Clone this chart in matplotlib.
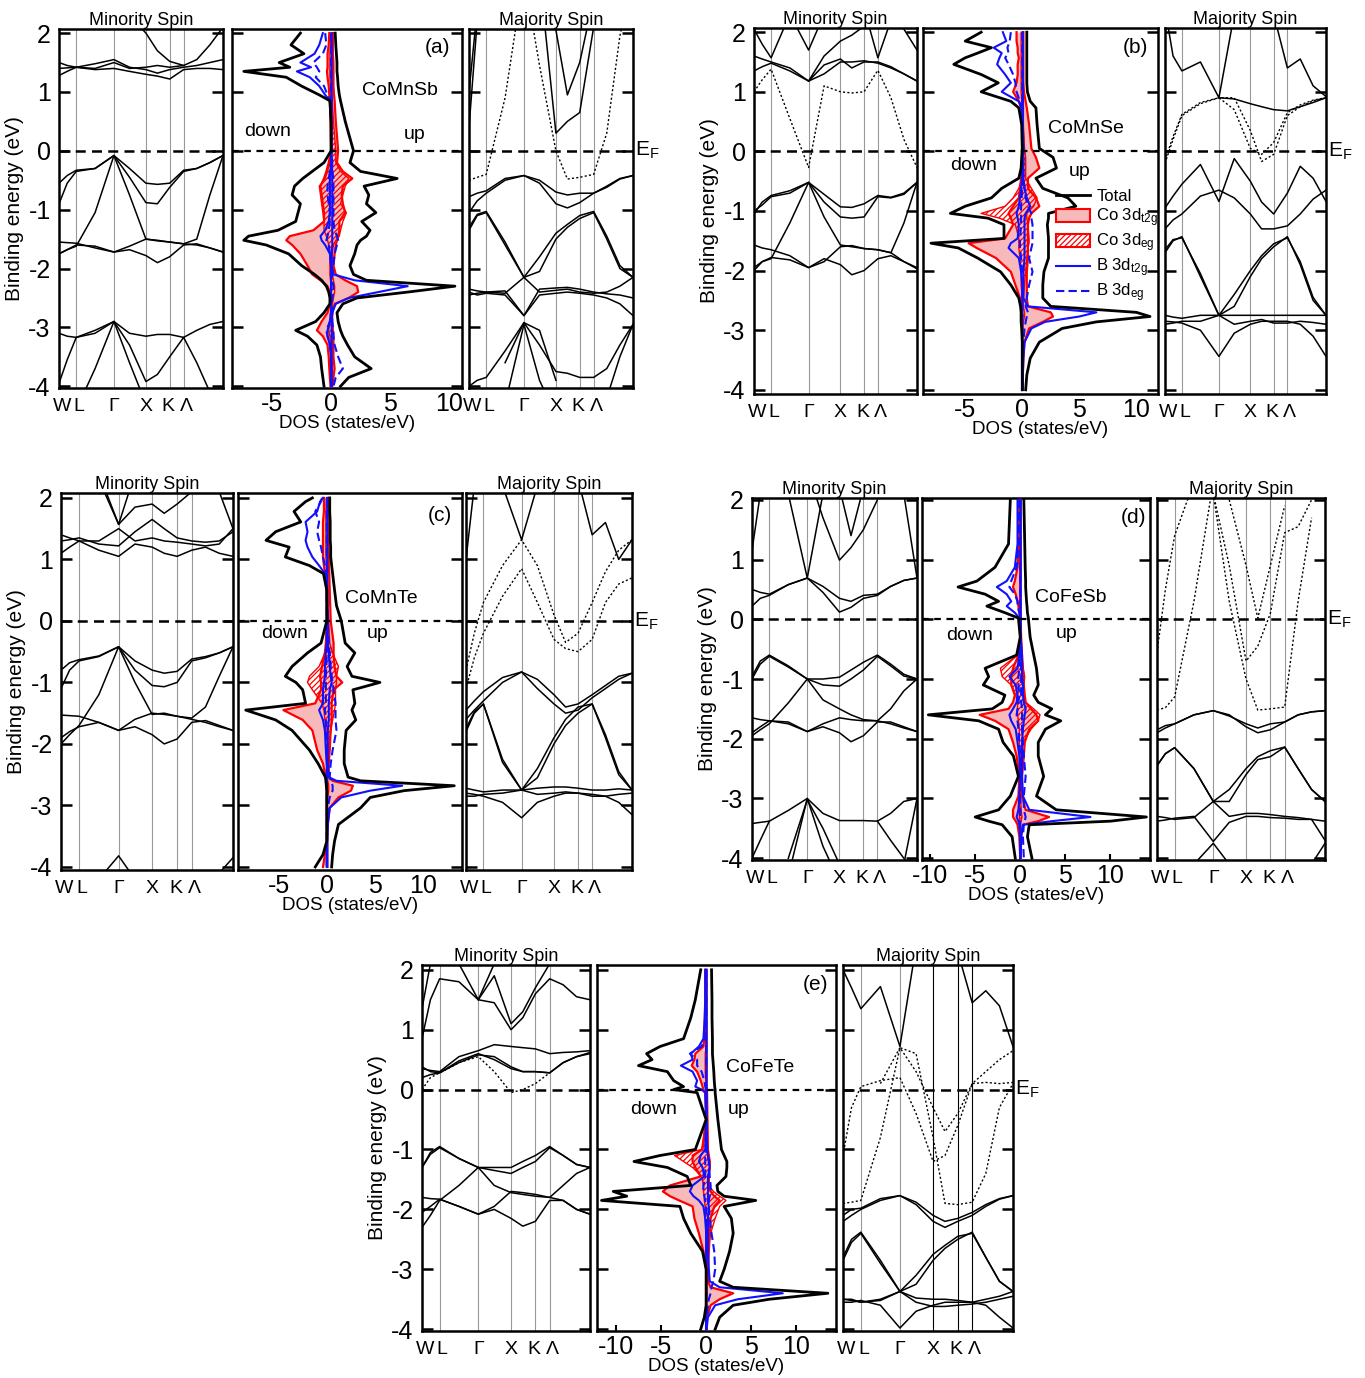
import numpy as np
import matplotlib
matplotlib.use('Agg')
import matplotlib.pyplot as plt
from matplotlib.lines import Line2D
from matplotlib.patches import Patch

plt.rcParams['font.family'] = ['Liberation Sans', 'DejaVu Sans']
plt.rcParams['mathtext.default'] = 'regular'
plt.rcParams['hatch.linewidth'] = 0.9

nan = np.nan

# ---------------------------------------------------------------
# k-path (fraction of the path length) and high-symmetry points
# ---------------------------------------------------------------
K_PATH = [0.0, 0.05, 0.105, 0.22, 0.335, 0.43, 0.53, 0.6, 0.675, 0.76, 0.84, 0.92, 1.0]
HS_POS = [0.105, 0.335, 0.53, 0.675, 0.76]
K_TICKS = [0.018, 0.12, 0.335, 0.53, 0.666, 0.774]
K_LABELS = ['W', 'L', 'Γ', 'X', 'K', 'Λ']
E_TICKS = [-4, -3, -2, -1, 0, 1, 2]

# ---------------------------------------------------------------
# (a) CoMnSb
# ---------------------------------------------------------------
A_MIN_SOLID = [
    [-0.55, -0.42, -0.33, -0.3, -0.08, -0.3, -0.55, -0.57, -0.55, -0.33, -0.3, -0.2, -0.08],
    [-0.9, -0.55, -0.35, -0.3, -0.08, -0.45, -0.88, -0.9, -0.62, -0.35, -0.3, -0.2, -0.08],
    [-1.75, -1.68, -1.62, -1.05, -0.08, -0.75, -1.5, -1.52, -1.55, -1.58, -1.5, -0.75, -0.08],
    [-1.55, -1.56, -1.57, -1.65, -1.72, -1.62, -1.5, -1.53, -1.55, -1.58, -1.6, -1.65, -1.72],
    [-1.75, -1.68, -1.6, -1.62, -1.72, -1.68, -1.78, -1.9, -1.8, -1.6, -1.58, -1.65, -1.72],
    [-3.1, -3.15, -3.17, -3.05, -2.9, -3.1, -3.15, -3.12, -3.12, -3.17, -3.05, -2.95, -2.9],
    [-3.95, -3.55, -3.17, -3.1, -2.9, -3.3, -3.92, -3.8, -3.5, -3.17, -3.6, -4.1, nan],
    [nan, nan, -4.4, -3.7, -2.9, -3.6, -4.3, nan, nan, nan, nan, nan, nan],
    [1.5, 1.45, 1.42, 1.48, 1.55, 1.42, 1.38, 1.32, 1.38, 1.42, 1.45, 1.5, 1.55],
    [1.28, 1.35, 1.42, 1.38, 1.4, 1.35, 1.3, 1.27, 1.22, 1.38, 1.4, 1.4, 1.38],
    [1.4, 1.41, 1.42, 1.4, 1.5, 1.4, 1.42, 1.45, 1.42, 1.45, 1.55, 1.8, 2.1],
    [nan, nan, nan, nan, nan, 2.3, 2.0, 1.7, 1.52, 1.45, nan, nan, nan],
]
A_MIN_DOT = []
A_MAJ_SOLID = [
    [0.4, 2.2, nan, nan, nan, nan, nan, nan, nan, nan, nan, nan, nan],
    [1.0, 2.4, nan, nan, nan, nan, nan, nan, nan, nan, nan, nan, nan],
    [nan, nan, nan, nan, nan, 3.0, 0.3, 0.5, 0.65, 2.1, nan, nan, nan],
    [nan, nan, nan, nan, nan, nan, 2.05, 0.95, 1.5, 2.6, nan, nan, nan],
    [-0.78, -0.72, -0.68, -0.47, -0.42, -0.5, -0.7, -0.75, -0.72, -0.72, -0.6, -0.47, -0.42],
    [-1.05, -0.85, -0.72, -0.5, -0.42, -0.55, -0.9, -0.97, -0.88, -0.72, -0.62, -0.48, -0.42],
    [-1.35, -1.1, -1.05, -1.6, -2.15, -2.05, -1.5, -1.3, -1.15, -1.05, -1.5, -2.0, -2.15],
    [-1.3, -1.08, -1.03, -1.55, -2.15, -1.8, -1.4, -1.25, -1.1, -1.03, -1.45, -1.95, -2.15],
    [-2.35, -2.38, -2.4, -2.42, -2.15, -2.4, -2.37, -2.35, -2.4, -2.42, -2.4, -2.3, -2.15],
    [-2.4, -2.45, -2.42, -2.45, -2.8, -2.45, -2.42, -2.4, -2.42, -2.45, -2.5, -2.6, -2.8],
    [-2.45, -2.42, -2.4, -2.38, -2.8, -2.35, -2.33, -2.32, -2.35, -2.4, -2.43, -2.45, -2.5],
    [-4.0, -3.9, -3.85, -3.4, -2.92, -3.3, -3.75, -3.78, -3.85, -3.85, -3.7, -3.3, -2.95],
    [nan, nan, nan, -4.3, -2.95, -3.9, -4.5, nan, nan, nan, nan, nan, nan],
    [nan, nan, nan, -3.6, -2.92, -3.05, -3.9, nan, nan, nan, nan, nan, nan],
    [nan, nan, nan, nan, nan, nan, nan, nan, nan, nan, -4.2, -3.5, -2.95],
]
A_MAJ_DOT = [
    [-0.5, -0.45, -0.4, 0.9, 3.0, 1.45, 0.0, -0.48, -0.45, -0.4, 0.3, 1.95, 3.0],
]

A_E = [2.0, 1.8, 1.65, 1.5, 1.42, 1.35, 1.25, 1.1, 0.95, 0.85,
       0.5, 0.0, -0.2, -0.35, -0.47, -0.6, -0.75, -0.9, -1.05, -1.2,
       -1.35, -1.45, -1.52, -1.6, -1.75, -1.95, -2.1, -2.2, -2.3, -2.4,
       -2.5, -2.6, -2.75, -2.9, -3.05, -3.15, -3.3, -3.5, -3.7, -3.85,
       -4.0]
A_TOT_DN = [-2.6, -3.4, -2.3, -4.4, -3.5, -7.4, -3.8, -2.5, -1.0, -0.1,
            0.0, 0.0, -0.6, -1.6, -2.4, -3.1, -3.3, -2.6, -2.8, -3.0,
            -4.5, -7.0, -7.4, -5.5, -3.6, -2.5, -1.4, -0.8, -0.4, -0.2,
            -0.1, -0.1, -0.6, -1.3, -3.0, -2.0, -1.2, -0.9, -0.8, -0.7,
            -0.6]
A_TOT_UP = [0.35, 0.4, 0.45, 0.5, 0.5, 0.5, 0.55, 0.6, 0.7, 0.8,
            1.2, 1.9, 1.6, 2.5, 5.6, 2.8, 3.2, 3.0, 3.8, 2.6,
            3.3, 3.0, 2.5, 2.2, 2.0, 1.6, 1.9, 3.0, 10.5, 6.5,
            2.2, 1.0, 0.5, 0.6, 0.8, 1.0, 1.4, 2.0, 3.4, 1.5,
            0.8]
A_CO_T2G_DN = [-0.15, -0.2, -0.3, -0.3, -0.3, -0.35, -0.3, -0.2, -0.15, -0.1,
               -0.05, 0.0, -0.2, -0.4, -0.6, -0.9, -0.8, -0.7, -0.6, -0.6,
               -1.5, -3.5, -3.8, -3.3, -2.6, -2.0, -1.6, -0.9, -0.3, -0.1,
               0.0, -0.1, -0.3, -0.8, -1.2, -0.7, -0.3, -0.2, -0.15, -0.1,
               -0.05]
A_CO_T2G_UP = [0.15, 0.15, 0.15, 0.2, 0.2, 0.2, 0.2, 0.2, 0.25, 0.3,
               0.4, 0.6, 0.5, 1.0, 1.8, 1.0, 0.9, 1.0, 1.2, 0.7,
               0.7, 0.6, 0.5, 0.4, 0.3, 0.2, 0.4, 1.2, 2.2, 2.3,
               1.5, 0.3, 0.1, 0.1, 0.15, 0.2, 0.2, 0.2, 0.3, 0.2,
               0.1]
A_CO_EG_DN = [-0.05, -0.05, -0.1, -0.1, -0.1, -0.1, -0.1, -0.05, -0.05, 0.0,
              0.0, 0.0, -0.1, -0.3, -0.5, -1.0, -0.9, -0.8, -0.7, -0.6,
              -0.6, -0.4, -0.3, -0.2, -0.1, -0.1, -0.1, -0.05, 0.0, 0.0,
              0.0, 0.0, -0.05, -0.1, -0.2, -0.1, -0.05, 0.0, 0.0, 0.0,
              0.0]
A_CO_EG_UP = [0.05, 0.05, 0.05, 0.05, 0.05, 0.05, 0.05, 0.05, 0.05, 0.1,
              0.2, 0.4, 0.4, 0.8, 1.5, 1.2, 1.0, 0.8, 1.3, 1.0,
              0.8, 0.7, 0.4, 0.2, 0.1, 0.1, 0.1, 0.2, 0.3, 0.3,
              0.2, 0.1, 0.05, 0.05, 0.05, 0.05, 0.05, 0.05, 0.1, 0.05,
              0.0]
A_B_T2G_DN = [-0.7, -1.0, -1.4, -2.6, -1.7, -2.9, -1.8, -1.0, -0.5, -0.1,
              0.0, 0.0, 0.0, -0.05, -0.1, -0.1, -0.1, -0.1, -0.1, -0.2,
              -0.5, -0.9, -0.8, -0.5, -0.1, 0.0, 0.0, 0.0, 0.0, 0.0,
              0.0, 0.0, 0.0, -0.1, -0.3, -0.3, -0.1, 0.0, 0.0, 0.0,
              0.0]
A_B_T2G_UP = [0.05, 0.05, 0.05, 0.05, 0.05, 0.05, 0.05, 0.05, 0.05, 0.05,
              0.05, 0.05, 0.05, 0.1, 0.1, 0.1, 0.1, 0.1, 0.1, 0.1,
              0.1, 0.1, 0.1, 0.1, 0.05, 0.05, 0.2, 2.0, 6.5, 4.0,
              1.5, 0.4, 0.1, 0.05, 0.05, 0.05, 0.05, 0.05, 0.05, 0.05,
              0.05]
A_B_EG_DN = [-0.5, -0.4, -0.7, -1.5, -1.2, -1.0, -1.3, -0.6, -0.3, -0.1,
             0.0, 0.0, 0.0, -0.1, -0.2, -0.3, -0.3, -0.2, -0.1, -0.1,
             -0.2, -0.3, -0.4, -0.2, -0.1, 0.0, 0.0, 0.0, 0.0, 0.0,
             0.0, 0.0, 0.0, -0.1, -0.4, -0.3, -0.1, 0.0, 0.0, 0.0,
             0.0]
A_B_EG_UP = [0.0, 0.0, 0.0, 0.0, 0.0, 0.0, 0.0, 0.0, 0.0, 0.0,
             0.0, 0.05, 0.1, 0.1, 0.2, 0.2, 0.2, 0.2, 0.2, 0.2,
             0.3, 0.5, 0.6, 0.5, 0.3, 0.2, 0.1, 0.1, 0.2, 0.2,
             0.1, 0.1, 0.1, 0.1, 0.2, 0.2, 0.3, 0.6, 1.0, 0.4,
             0.2]

# ---------------------------------------------------------------
# (b) CoMnSe
# ---------------------------------------------------------------
B_MIN_SOLID = [
    [-1.05, -0.85, -0.74, -0.66, -0.52, -0.72, -0.93, -0.94, -0.88, -0.74, -0.77, -0.7, -0.52],
    [-1.0, -0.9, -0.76, -0.7, -0.52, -0.85, -1.1, -1.12, -1.1, -0.76, -0.78, -0.72, -0.52],
    [-2.0, -1.85, -1.8, -1.2, -0.52, -1.1, -1.57, -1.6, -1.63, -1.65, -1.7, -1.2, -0.52],
    [-1.57, -1.62, -1.65, -1.75, -1.95, -1.85, -1.6, -1.58, -1.63, -1.65, -1.7, -1.85, -1.95],
    [-1.95, -1.85, -1.78, -1.82, -1.95, -1.8, -1.9, -2.07, -2.0, -1.8, -1.75, -1.85, -1.97],
    [1.35, 1.42, 1.48, 1.35, 1.18, 1.3, 1.5, 1.5, 1.52, 1.48, 1.4, 1.3, 1.18],
    [1.6, 1.55, 1.5, 1.4, 1.18, 1.45, 1.55, 1.4, 1.5, 1.5, 1.42, 1.3, 1.18],
    [2.05, 1.8, 1.57, 2.3, nan, nan, nan, nan, 2.4, 1.57, 2.2, nan, nan],
    [nan, nan, nan, 2.3, 1.7, 2.3, nan, nan, nan, nan, nan, nan, nan],
    [nan, nan, nan, nan, 1.18, 1.6, 1.85, 1.95, 2.1, nan, nan, nan, nan],
    [nan, nan, nan, nan, nan, nan, nan, nan, nan, nan, nan, 2.05, 1.7],
]
B_MIN_DOT = [
    [1.0, 1.2, 1.38, 0.55, -0.27, 1.1, 1.0, 0.98, 1.0, 1.36, 0.9, 0.2, -0.27],
]
B_MAJ_SOLID = [
    [2.4, 1.6, 1.35, 1.5, 0.9, 2.3, nan, nan, 2.3, 1.4, 1.55, 1.1, 0.92],
    [nan, nan, nan, nan, 0.9, 0.88, 0.8, 0.75, 0.7, 0.68, 0.75, 0.82, 0.9],
    [-0.95, -0.75, -0.55, -0.22, -0.84, -0.12, -0.5, -0.85, -1.05, -0.7, -0.25, -0.45, -0.84],
    [-1.3, -1.15, -1.05, -0.75, -0.65, -0.78, -1.05, -1.3, -1.3, -1.25, -1.05, -0.8, -0.65],
    [-1.7, -1.5, -1.43, -2.1, -2.75, -2.6, -2.1, -1.8, -1.6, -1.43, -1.9, -2.5, -2.75],
    [-1.65, -1.48, -1.45, -2.05, -2.75, -2.4, -2.0, -1.75, -1.55, -1.45, -1.85, -2.45, -2.75],
    [-2.75, -2.78, -2.8, -2.75, -2.75, -2.75, -2.75, -2.75, -2.75, -2.75, -2.75, -2.75, -2.75],
    [-2.9, -2.88, -2.85, -2.85, -2.75, -2.9, -2.85, -2.82, -2.88, -2.88, -2.85, -2.87, -2.9],
    [-2.85, -2.86, -2.88, -3.0, -3.44, -3.05, -2.9, -2.85, -2.85, -2.85, -2.9, -3.1, -3.44],
]
B_MAJ_DOT = [
    [-0.2, 0.2, 0.6, 0.8, 0.9, 0.9, 0.35, -0.17, -0.05, 0.6, 0.75, 0.85, 0.9],
    [-0.15, 0.25, 0.62, 0.82, 0.9, 0.7, 0.05, -0.05, 0.15, 0.65, 0.78, 0.86, 0.9],
]

B_E = [2.0, 1.85, 1.74, 1.65, 1.57, 1.46, 1.29, 1.15, 1.0, 0.84,
       0.73, 0.45, 0.05, -0.1, -0.28, -0.45, -0.62, -0.78, -0.92, -1.04,
       -1.12, -1.23, -1.46, -1.54, -1.62, -1.79, -2.02, -2.24, -2.46, -2.6,
       -2.7, -2.77, -2.86, -2.97, -3.2, -3.47, -3.75, -4.0]
B_TOT_DN = [-3.6, -5.0, -2.7, -3.9, -5.0, -6.0, -3.6, -2.1, -3.6, -1.0,
            -0.3, -0.05, 0.0, -0.05, -0.1, -0.3, -1.8, -2.7, -5.0, -6.3,
            -3.0, -1.6, -1.6, -8.0, -5.6, -3.9, -1.9, -1.0, -0.3, -0.15,
            -0.1, -0.1, -0.1, -0.05, 0.0, 0.0, 0.0, 0.0]
B_TOT_UP = [0.4, 0.4, 0.4, 0.4, 0.4, 0.4, 0.4, 0.4, 0.45, 0.7,
            1.2, 1.3, 1.5, 2.7, 3.0, 1.2, 1.8, 4.0, 4.7, 2.3,
            2.3, 2.2, 2.3, 2.3, 2.3, 2.3, 1.9, 1.8, 1.8, 2.5,
            10.0, 11.2, 6.5, 3.5, 1.5, 0.7, 0.4, 0.3]
B_CO_T2G_DN = [-0.5, -0.5, -0.4, -0.4, -0.3, -0.4, -0.4, -0.5, -0.8, -0.3,
               -0.1, 0.0, 0.0, 0.0, 0.0, -0.1, -0.2, -0.3, -0.8, -1.2,
               -1.0, -0.8, -1.5, -4.7, -4.0, -2.3, -1.0, -0.6, -0.2, -0.1,
               0.0, 0.0, 0.0, 0.0, 0.0, 0.0, 0.0, 0.0]
B_CO_T2G_UP = [0.1, 0.1, 0.1, 0.1, 0.1, 0.1, 0.1, 0.1, 0.15, 0.3,
               0.4, 0.6, 0.8, 1.2, 1.5, 0.5, 0.5, 1.2, 1.5, 0.8,
               0.6, 0.5, 0.5, 0.5, 0.5, 0.5, 0.4, 0.4, 0.4, 0.5,
               2.5, 2.7, 1.8, 0.6, 0.2, 0.1, 0.05, 0.05]
B_CO_EG_DN = [-0.1, -0.1, -0.1, -0.1, -0.1, -0.1, -0.1, -0.1, -0.1, -0.05,
              0.0, 0.0, 0.0, 0.0, 0.0, 0.0, -0.3, -0.8, -1.5, -3.6,
              -2.0, -0.6, -0.3, -0.3, -0.3, -0.2, -0.1, -0.1, 0.0, 0.0,
              0.0, 0.0, 0.0, 0.0, 0.0, 0.0, 0.0, 0.0]
B_CO_EG_UP = [0.05, 0.05, 0.05, 0.05, 0.05, 0.05, 0.05, 0.05, 0.05, 0.1,
              0.1, 0.1, 0.2, 0.3, 0.3, 0.3, 0.8, 1.3, 1.0, 0.4,
              0.4, 0.5, 0.6, 0.6, 0.5, 0.4, 0.3, 0.2, 0.1, 0.1,
              0.2, 0.2, 0.1, 0.05, 0.0, 0.0, 0.0, 0.0]
B_B_T2G_DN = [-1.7, -1.4, -2.5, -1.8, -2.0, -2.2, -1.5, -1.0, -1.8, -0.3,
              -0.05, 0.0, 0.0, 0.0, 0.0, 0.0, -0.1, -0.2, -0.3, -0.5,
              -0.4, -0.3, -0.4, -1.0, -1.2, -0.3, -0.1, 0.0, 0.0, 0.0,
              0.0, 0.0, 0.0, 0.0, 0.0, 0.0, 0.0, 0.0]
B_B_T2G_UP = [0.05, 0.05, 0.05, 0.05, 0.05, 0.05, 0.05, 0.05, 0.05, 0.05,
              0.05, 0.05, 0.1, 0.1, 0.1, 0.1, 0.2, 0.4, 0.7, 0.3,
              0.2, 0.2, 0.2, 0.2, 0.2, 0.2, 0.1, 0.1, 0.1, 0.5,
              6.5, 5.0, 2.0, 0.8, 0.2, 0.1, 0.05, 0.05]
B_B_EG_DN = [-1.0, -1.1, -1.3, -1.2, -1.5, -1.2, -0.8, -0.6, -0.5, -0.2,
             0.0, 0.0, 0.0, 0.0, 0.0, 0.0, 0.0, -0.05, -0.1, -0.1,
             -0.1, -0.1, -0.2, -0.2, -0.2, -0.1, 0.0, 0.0, 0.0, 0.0,
             0.0, 0.0, 0.0, 0.0, 0.0, 0.0, 0.0, 0.0]
B_B_EG_UP = [0.0, 0.0, 0.0, 0.0, 0.0, 0.0, 0.0, 0.0, 0.0, 0.0,
             0.0, 0.05, 0.1, 0.1, 0.1, 0.1, 0.2, 0.3, 0.5, 0.8,
             0.8, 0.9, 0.9, 0.9, 0.8, 0.6, 0.9, 0.6, 0.4, 0.3,
             0.5, 0.4, 0.3, 0.2, 0.1, 0.0, 0.0, 0.0]

# ---------------------------------------------------------------
# (c) CoMnTe
# ---------------------------------------------------------------
C_MIN_SOLID = [
    [-0.8, -0.68, -0.63, -0.57, -0.42, -0.65, -0.8, -0.85, -0.82, -0.62, -0.58, -0.52, -0.42],
    [-1.1, -0.8, -0.65, -0.58, -0.42, -0.8, -1.05, -1.07, -1.0, -0.65, -0.6, -0.52, -0.42],
    [-2.0, -1.85, -1.7, -1.2, -0.42, -1.0, -1.52, -1.5, -1.55, -1.58, -1.4, -0.9, -0.42],
    [-1.53, -1.54, -1.55, -1.65, -1.78, -1.6, -1.5, -1.52, -1.55, -1.6, -1.65, -1.72, -1.78],
    [-1.9, -1.8, -1.72, -1.65, -1.78, -1.72, -1.85, -2.0, -1.92, -1.65, -1.62, -1.7, -1.78],
    [nan, nan, nan, -4.2, -3.82, -4.2, nan, nan, nan, nan, nan, nan, nan],
    [nan, nan, nan, nan, nan, nan, nan, nan, nan, nan, nan, -4.1, -3.85],
    [1.1, 1.2, 1.3, 1.15, 1.05, 1.25, 1.2, 1.1, 1.05, 1.15, 1.2, 1.1, 1.05],
    [1.4, 1.35, 1.3, 1.3, 1.5, 1.3, 1.35, 1.3, 1.28, 1.25, 1.22, 1.25, 1.5],
    [1.3, 1.32, 1.35, 1.25, 1.22, 1.45, 1.65, 1.5, 1.35, 1.3, 1.28, 1.3, 1.45],
    [nan, nan, nan, 2.3, 1.57, 1.85, 1.9, 1.75, 1.9, 2.1, nan, nan, nan],
    [nan, nan, nan, 2.4, 1.57, 2.4, nan, nan, nan, nan, nan, nan, nan],
    [nan, nan, nan, nan, nan, nan, nan, nan, nan, nan, nan, 2.1, 1.5],
]
C_MIN_DOT = []
C_MAJ_SOLID = [
    [nan, nan, nan, 2.2, 1.32, 2.2, nan, nan, nan, nan, nan, nan, nan],
    [nan, nan, nan, nan, nan, nan, nan, nan, 2.3, 1.4, 1.6, 1.0, 1.32],
    [1.0, 2.2, nan, nan, nan, nan, nan, nan, nan, nan, nan, nan, nan],
    [-1.45, -1.3, -1.15, -0.92, -0.83, -0.95, -1.2, -1.4, -1.35, -1.2, -1.05, -0.9, -0.85],
    [-1.6, -1.45, -1.3, -1.0, -0.83, -1.1, -1.35, -1.5, -1.45, -1.25, -1.1, -0.95, -0.85],
    [-1.8, -1.5, -1.35, -2.3, -2.75, -2.55, -2.0, -1.7, -1.5, -1.35, -1.9, -2.5, -2.75],
    [-1.75, -1.48, -1.35, -2.25, -2.75, -2.4, -1.9, -1.6, -1.4, -1.35, -1.85, -2.45, -2.75],
    [-2.72, -2.75, -2.78, -2.75, -2.75, -2.72, -2.7, -2.7, -2.72, -2.75, -2.75, -2.73, -2.75],
    [-2.85, -2.85, -2.82, -2.8, -2.75, -2.82, -2.8, -2.78, -2.8, -2.85, -2.85, -2.82, -2.8],
    [-2.8, -2.82, -2.85, -2.95, -3.2, -2.95, -2.85, -2.8, -2.8, -2.82, -2.85, -2.95, -3.15],
]
C_MAJ_DOT = [
    [-0.8, -0.2, 0.3, 0.9, 1.32, 0.9, 0.1, -0.35, -0.2, 0.3, 0.8, 1.15, 1.32],
    [-1.1, -0.6, -0.2, 0.4, 0.85, 0.3, -0.3, -0.45, -0.5, -0.3, 0.3, 0.6, 0.7],
]

C_E = [2.0, 1.94, 1.78, 1.61, 1.45, 1.31, 1.2, 1.04, 0.9, 0.77,
       0.5, 0.25, 0.0, -0.36, -0.52, -0.74, -0.9, -1.0, -1.12, -1.34,
       -1.45, -1.61, -1.78, -2.1, -2.32, -2.54, -2.6, -2.68, -2.76, -2.87,
       -3.04, -3.31, -3.58, -3.8, -4.0]
C_TOT_DN = [-1.5, -2.2, -3.4, -2.7, -5.3, -6.3, -3.9, -4.3, -1.8, -0.35,
            0.0, 0.0, 0.0, -0.6, -2.0, -3.6, -4.3, -3.2, -2.5, -2.2,
            -8.4, -5.3, -3.6, -1.8, -0.9, -0.15, -0.1, -0.05, 0.0, 0.0,
            0.0, 0.0, 0.0, -0.4, -1.2]
C_TOT_UP = [0.3, 0.3, 0.3, 0.35, 0.35, 0.35, 0.4, 0.4, 0.5, 0.6,
            0.8, 1.0, 1.5, 1.9, 2.9, 2.1, 2.6, 5.5, 2.7, 2.9,
            2.6, 3.0, 2.0, 1.8, 1.8, 2.2, 3.5, 13.2, 8.0, 4.5,
            3.5, 1.2, 0.8, 0.6, 0.5]
C_CO_T2G_DN = [-0.3, -0.3, -0.3, -0.4, -0.4, -0.4, -0.4, -0.4, -0.3, -0.2,
               -0.05, 0.0, 0.0, -0.1, -0.2, -0.5, -0.7, -0.6, -0.6, -1.2,
               -4.5, -2.5, -1.5, -1.0, -0.4, -0.1, 0.0, 0.0, 0.0, 0.0,
               0.0, 0.0, 0.0, -0.2, -0.4]
C_CO_T2G_UP = [0.1, 0.1, 0.1, 0.1, 0.15, 0.15, 0.15, 0.2, 0.2, 0.25,
               0.3, 0.35, 0.4, 0.7, 0.7, 0.8, 1.0, 1.6, 0.7, 0.5,
               0.5, 0.5, 0.4, 0.3, 0.2, 0.2, 0.6, 2.7, 2.5, 1.2,
               0.3, 0.1, 0.05, 0.05, 0.05]
C_CO_EG_DN = [-0.05, -0.05, -0.1, -0.1, -0.1, -0.1, -0.1, -0.1, -0.05, 0.0,
              0.0, 0.0, 0.0, 0.0, -0.2, -0.8, -1.8, -2.0, -1.5, -0.5,
              -0.3, -0.2, -0.1, -0.1, 0.0, 0.0, 0.0, 0.0, 0.0, 0.0,
              0.0, 0.0, 0.0, 0.0, 0.0]
C_CO_EG_UP = [0.05, 0.05, 0.05, 0.05, 0.05, 0.05, 0.05, 0.05, 0.05, 0.05,
              0.1, 0.1, 0.2, 0.3, 0.6, 1.2, 1.0, 1.0, 0.9, 0.9,
              0.8, 0.6, 0.4, 0.2, 0.1, 0.1, 0.1, 0.2, 0.2, 0.1,
              0.0, 0.0, 0.0, 0.0, 0.0]
C_B_T2G_DN = [-0.4, -0.7, -1.0, -2.2, -2.0, -2.2, -2.0, -1.5, -0.8, -0.2,
              0.0, 0.0, 0.0, 0.0, -0.1, -0.2, -0.2, -0.3, -0.4, -0.4,
              -0.8, -0.4, -0.2, -0.1, 0.0, 0.0, 0.0, 0.0, 0.0, 0.0,
              0.0, 0.0, 0.0, 0.0, 0.0]
C_B_T2G_UP = [0.05, 0.05, 0.05, 0.05, 0.05, 0.05, 0.05, 0.05, 0.05, 0.05,
              0.05, 0.05, 0.1, 0.1, 0.2, 0.3, 0.4, 0.5, 0.3, 0.2,
              0.2, 0.2, 0.1, 0.1, 0.1, 0.2, 1.0, 7.8, 4.5, 1.5,
              0.3, 0.1, 0.05, 0.05, 0.05]
C_B_EG_DN = [-0.5, -0.6, -1.2, -0.8, -1.0, -0.8, -0.6, -0.4, -0.2, -0.05,
             0.0, 0.0, 0.0, 0.0, 0.0, -0.05, -0.1, -0.1, -0.1, -0.1,
             -0.2, -0.1, -0.05, 0.0, 0.0, 0.0, 0.0, 0.0, 0.0, 0.0,
             0.0, 0.0, 0.0, 0.0, 0.0]
C_B_EG_UP = [0.0, 0.0, 0.0, 0.0, 0.0, 0.0, 0.0, 0.0, 0.0, 0.0,
             0.0, 0.05, 0.1, 0.2, 0.3, 0.4, 0.5, 0.6, 0.7, 0.9,
             0.9, 0.9, 1.0, 0.6, 0.4, 0.3, 0.4, 0.6, 0.6, 0.3,
             0.1, 0.05, 0.0, 0.0, 0.0]

# ---------------------------------------------------------------
# (d) CoFeSb
# ---------------------------------------------------------------
D_MIN_SOLID = [
    [-0.96, -0.7, -0.6, -0.78, -1.0, -1.0, -0.97, -0.85, -0.72, -0.6, -0.75, -0.92, -1.0],
    [-1.0, -0.75, -0.62, -0.8, -1.0, -1.1, -1.12, -1.0, -0.85, -0.62, -0.78, -0.95, -1.0],
    [-1.95, -1.85, -1.75, -1.4, -1.0, -1.35, -1.5, -1.6, -1.68, -1.7, -1.5, -1.2, -1.0],
    [-1.65, -1.68, -1.7, -1.75, -1.88, -1.75, -1.65, -1.68, -1.7, -1.7, -1.75, -1.82, -1.88],
    [-1.9, -1.8, -1.7, -1.72, -1.88, -1.8, -1.9, -2.05, -1.95, -1.72, -1.72, -1.8, -1.88],
    [-3.42, -3.4, -3.38, -3.2, -3.0, -3.25, -3.37, -3.37, -3.37, -3.38, -3.25, -3.05, -3.0],
    [-4.0, -3.7, -3.38, nan, nan, nan, nan, nan, nan, -3.38, -3.7, -4.0, nan],
    [nan, nan, nan, -4.0, -3.02, -3.5, -4.1, nan, nan, nan, nan, nan, nan],
    [nan, nan, nan, -4.3, -3.0, -3.8, -4.4, nan, nan, nan, nan, nan, nan],
    [nan, nan, nan, nan, nan, nan, nan, nan, nan, nan, nan, -4.1, -3.0],
    [0.22, 0.35, 0.4, 0.58, 0.69, 0.55, 0.35, 0.3, 0.4, 0.42, 0.55, 0.65, 0.69],
    [0.5, 0.45, 0.42, 0.58, 0.69, 0.45, 0.12, 0.2, 0.35, 0.4, 0.55, 0.65, 0.69],
    [nan, nan, nan, nan, 2.5, 1.7, 0.99, 1.2, 1.5, 2.0, nan, nan, nan],
    [nan, nan, nan, nan, nan, nan, 2.2, 1.4, 2.2, nan, nan, nan, nan],
    [1.15, 2.1, nan, nan, nan, nan, nan, nan, nan, nan, nan, nan, nan],
    [nan, nan, nan, nan, nan, nan, nan, nan, nan, nan, nan, 2.1, 0.69],
    [nan, nan, nan, 2.1, 0.69, 2.1, nan, nan, nan, nan, nan, nan, nan],
]
D_MIN_DOT = []
D_MAJ_SOLID = [
    [-1.85, -1.78, -1.75, -1.6, -1.53, -1.6, -1.8, -1.9, -1.85, -1.72, -1.6, -1.55, -1.53],
    [-1.9, -1.82, -1.75, -1.6, -1.53, -1.62, -1.75, -1.82, -1.75, -1.72, -1.6, -1.55, -1.53],
    [-2.45, -2.25, -2.15, -2.5, -3.05, -3.05, -2.6, -2.35, -2.3, -2.14, -2.5, -2.85, -3.05],
    [-2.45, -2.25, -2.15, -2.5, -3.05, -2.85, -2.5, -2.3, -2.2, -2.14, -2.5, -2.85, -3.05],
    [-3.3, -3.32, -3.35, -3.32, -3.05, -3.3, -3.25, -3.25, -3.27, -3.3, -3.32, -3.35, -3.38],
    [-3.38, -3.36, -3.33, -3.3, -3.72, -3.4, -3.3, -3.3, -3.32, -3.33, -3.35, -3.35, -3.7],
    [nan, nan, nan, -4.1, -3.75, -4.1, nan, nan, nan, nan, nan, nan, nan],
    [nan, nan, nan, nan, nan, nan, nan, nan, nan, nan, nan, -4.1, -3.75],
]
D_MAJ_DOT = [
    [-0.55, 0.5, 1.4, 2.3, nan, nan, nan, nan, nan, nan, nan, nan, nan],
    [-1.52, -1.48, -1.3, 0.3, 2.3, nan, nan, nan, nan, nan, nan, nan, nan],
    [nan, nan, nan, nan, 2.1, 0.9, -0.7, -0.45, 0.1, 1.45, 1.55, 2.0, nan],
    [nan, nan, nan, nan, 2.1, 0.3, -1.0, -1.52, -1.5, -1.47, 0.3, 1.7, nan],
    [nan, nan, nan, nan, nan, 2.0, 0.9, 0.02, 0.9, 1.9, nan, nan, nan],
]

D_E = [2.0, 1.26, 0.87, 0.64, 0.54, 0.42, 0.3, 0.22, 0.11, 0.02,
       -0.3, -0.6, -0.82, -0.96, -1.1, -1.27, -1.39, -1.5, -1.6, -1.7,
       -1.84, -2.06, -2.29, -2.63, -2.96, -3.19, -3.31, -3.38, -3.44, -3.64,
       -4.0]
D_TOT_DN = [-1.1, -1.3, -2.8, -4.8, -6.9, -3.9, -2.4, -3.7, -1.7, -0.2,
            0.0, -0.4, -3.9, -3.5, -4.1, -1.7, -2.0, -3.1, -10.2, -4.6,
            -2.4, -1.9, -0.75, -0.2, -1.1, -2.4, -5.0, -3.5, -2.0, -0.9,
            -0.55]
D_TOT_UP = [0.4, 0.5, 0.55, 0.6, 0.6, 0.65, 0.7, 0.75, 0.8, 0.9,
            1.1, 1.5, 1.8, 1.9, 2.0, 1.5, 2.0, 3.5, 2.8, 4.5,
            2.8, 2.0, 2.0, 2.6, 1.8, 4.0, 14.0, 10.0, 1.0, 0.8,
            1.3]
D_CO_T2G_DN = [-0.1, -0.1, -0.3, -0.6, -0.8, -0.5, -0.3, -0.2, -0.1, 0.0,
               0.0, -0.2, -0.8, -1.0, -1.0, -0.6, -0.8, -1.3, -4.5, -2.8,
               -1.3, -0.8, -0.4, -0.1, -0.2, -0.8, -0.8, -0.5, -0.3, -0.1,
               0.0]
D_CO_T2G_UP = [0.05, 0.05, 0.05, 0.05, 0.05, 0.05, 0.05, 0.05, 0.05, 0.05,
               0.1, 0.2, 0.3, 0.4, 0.4, 0.5, 0.6, 1.2, 1.8, 2.0,
               1.0, 0.5, 0.4, 0.2, 0.2, 0.6, 3.2, 2.0, 0.3, 0.1,
               0.05]
D_CO_EG_DN = [0.0, 0.0, 0.0, -0.05, -0.05, -0.05, 0.0, 0.0, 0.0, 0.0,
              0.0, -0.3, -2.2, -2.0, -1.0, -0.5, -0.3, -0.3, -0.3, -0.2,
              -0.1, -0.1, 0.0, 0.0, 0.0, -0.1, -0.1, -0.05, 0.0, 0.0,
              0.0]
D_CO_EG_UP = [0.0, 0.0, 0.0, 0.0, 0.0, 0.0, 0.0, 0.0, 0.0, 0.0,
              0.05, 0.2, 0.3, 0.5, 0.4, 0.4, 0.6, 1.5, 2.2, 2.0,
              1.2, 0.3, 0.1, 0.05, 0.05, 0.1, 0.2, 0.1, 0.0, 0.0,
              0.0]
D_B_T2G_DN = [-0.3, -0.3, -0.6, -1.5, -2.6, -1.5, -1.0, -1.5, -0.6, -0.1,
              0.0, -0.1, -0.3, -1.2, -0.5, -0.3, -0.4, -0.8, -1.2, -1.0,
              -0.5, -0.3, -0.1, 0.0, -0.1, -0.2, -0.4, -0.2, -0.1, 0.0,
              0.0]
D_B_T2G_UP = [0.05, 0.05, 0.05, 0.05, 0.05, 0.05, 0.05, 0.05, 0.05, 0.05,
              0.05, 0.2, 0.2, 0.2, 0.3, 0.3, 0.4, 0.6, 0.5, 0.4,
              0.3, 0.2, 0.2, 0.2, 0.3, 1.0, 7.8, 3.5, 0.3, 0.1,
              0.05]
D_B_EG_DN = [-0.1, -0.2, -0.4, -1.0, -1.2, -0.6, -0.3, -0.3, -0.1, 0.0,
             0.0, 0.0, -0.1, -0.2, -0.2, -0.1, -0.2, -0.3, -0.4, -0.3,
             -0.2, -0.1, 0.0, 0.0, 0.0, 0.0, 0.0, 0.0, 0.0, 0.0,
             0.0]
D_B_EG_UP = [0.0, 0.0, 0.0, 0.0, 0.0, 0.0, 0.0, 0.0, 0.0, 0.0,
             0.0, 0.05, 0.1, 0.1, 0.1, 0.1, 0.1, 0.2, 0.2, 0.2,
             0.2, 0.3, 0.4, 0.6, 0.4, 0.4, 0.6, 0.5, 0.4, 0.3,
             0.4]

# ---------------------------------------------------------------
# (e) CoFeTe
# ---------------------------------------------------------------
E_MIN_SOLID = [
    [-1.3, -1.05, -0.95, -1.15, -1.3, -1.3, -1.3, -1.2, -1.1, -0.95, -1.1, -1.25, -1.3],
    [-1.3, -1.08, -0.97, -1.15, -1.3, -1.35, -1.4, -1.3, -1.2, -0.97, -1.1, -1.25, -1.3],
    [-2.3, -2.1, -1.85, -1.6, -1.3, -1.6, -1.72, -1.75, -1.78, -1.8, -1.6, -1.4, -1.3],
    [-1.8, -1.82, -1.83, -1.95, -2.08, -1.95, -1.7, -1.72, -1.75, -1.8, -1.85, -2.0, -2.08],
    [-2.05, -1.95, -1.83, -1.95, -2.08, -2.0, -2.15, -2.28, -2.2, -1.85, -1.85, -2.0, -2.08],
    [0.38, 0.3, 0.28, 0.48, 0.6, 0.5, 0.35, 0.3, 0.3, 0.28, 0.45, 0.55, 0.6],
    [0.2, 0.25, 0.28, 0.45, 0.58, 0.55, 0.38, 0.3, 0.3, 0.28, 0.45, 0.55, 0.62],
    [0.35, 0.32, 0.3, 0.55, 0.65, 0.75, 0.72, 0.7, 0.68, 0.6, 0.62, 0.63, 0.65],
    [0.85, 1.5, 1.85, 1.8, 1.5, 1.45, 1.0, 1.2, 1.6, 1.85, 1.75, 1.55, 1.5],
    [nan, nan, nan, 2.1, 1.5, 2.1, nan, nan, nan, nan, nan, nan, nan],
    [1.35, 2.1, nan, nan, nan, nan, nan, nan, nan, nan, nan, nan, nan],
    [nan, nan, nan, nan, 1.5, 1.9, 1.1, 1.3, 1.7, 2.1, nan, nan, nan],
]
E_MIN_DOT = [
    [0.0, 0.2, 0.28, 0.45, 0.55, 0.3, -0.05, 0.0, 0.1, 0.28, nan, nan, nan],
]
E_MAJ_SOLID = [
    [2.0, 1.7, 1.35, 1.72, 0.72, 2.4, nan, nan, 2.3, 1.45, 1.65, 1.4, 0.72],
    [-2.1, -2.0, -1.98, -1.82, -1.77, -1.88, -2.1, -2.2, -2.15, -2.05, -1.92, -1.82, -1.77],
    [-2.2, -2.1, -2.0, -1.85, -1.77, -1.92, -2.2, -2.3, -2.2, -2.1, -1.95, -1.83, -1.77],
    [-2.8, -2.5, -2.38, -2.85, -3.37, -3.25, -2.85, -2.65, -2.5, -2.38, -2.8, -3.2, -3.37],
    [-2.85, -2.55, -2.4, -2.9, -3.37, -3.1, -2.75, -2.6, -2.45, -2.4, -2.8, -3.2, -3.37],
    [-3.5, -3.52, -3.55, -3.5, -3.37, -3.48, -3.5, -3.5, -3.52, -3.55, -3.5, -3.45, -3.37],
    [-3.55, -3.55, -3.52, -3.6, -3.98, -3.7, -3.6, -3.55, -3.55, -3.55, -3.6, -3.8, -3.98],
    [-3.5, -3.5, -3.55, -3.52, -3.37, -3.55, -3.62, -3.62, -3.6, -3.58, -3.55, -3.5, -3.45],
]
E_MAJ_DOT = [
    [-1.1, -0.3, 0.05, 0.15, 0.2, -0.4, -1.2, -1.1, -0.6, 0.1, 0.12, 0.1, 0.12],
    [-1.9, -1.88, -1.85, -0.8, 0.7, 0.6, -0.8, -1.9, -1.92, -1.88, -1.4, -0.3, 0.1],
    [nan, nan, nan, 0.1, 0.7, 0.3, -0.3, -0.7, -0.4, 0.1, 0.3, 0.5, 0.65],
]

E_E = [2.0, 1.5, 1.2, 0.85, 0.72, 0.6, 0.5, 0.4, 0.3, 0.15,
       0.05, 0.0, -0.05, -0.5, -1.0, -1.1, -1.2, -1.3, -1.45, -1.6,
       -1.7, -1.78, -1.85, -1.95, -2.15, -2.4, -2.7, -3.0, -3.2, -3.3,
       -3.4, -3.5, -3.6, -3.8, -4.0]
E_TOT_DN = [-0.6, -1.2, -1.7, -2.5, -5.1, -6.6, -6.0, -7.5, -4.3, -3.6,
            -2.5, -3.6, -1.0, 0.0, -1.2, -5.1, -8.0, -4.3, -2.1, -1.7,
            -10.3, -8.8, -11.6, -2.9, -2.5, -1.7, -0.4, 0.0, 0.0, 0.0,
            0.0, 0.0, 0.0, -0.2, -0.6]
E_TOT_UP = [0.6, 0.65, 0.65, 0.7, 0.7, 0.7, 0.75, 0.8, 0.85, 0.9,
            0.95, 1.0, 1.0, 1.3, 1.7, 2.0, 2.3, 2.3, 2.2, 1.2,
            1.3, 2.0, 5.5, 2.0, 2.8, 3.0, 2.6, 2.0, 1.5, 3.0,
            13.5, 7.0, 3.0, 1.5, 1.0]
E_CO_T2G_DN = [-0.1, -0.1, -0.15, -0.2, -0.3, -1.2, -1.3, -1.6, -1.0, -0.6,
               -0.4, -0.3, -0.1, 0.0, -0.4, -1.5, -1.5, -1.2, -0.6, -4.0,
               -4.8, -4.0, -3.0, -1.5, -1.3, -0.8, -0.3, 0.0, 0.0, 0.0,
               0.0, 0.0, 0.0, 0.0, 0.0]
E_CO_T2G_UP = [0.05, 0.05, 0.05, 0.05, 0.05, 0.05, 0.05, 0.05, 0.05, 0.05,
               0.05, 0.1, 0.1, 0.15, 0.2, 0.3, 0.4, 0.4, 0.3, 0.3,
               0.5, 0.9, 1.5, 0.9, 0.5, 0.4, 0.3, 0.2, 0.2, 0.5,
               3.0, 1.5, 0.5, 0.1, 0.05]
E_CO_EG_DN = [0.0, 0.0, 0.0, 0.0, 0.0, -0.1, -0.1, -0.1, -0.1, -0.05,
              0.0, 0.0, 0.0, 0.0, -0.5, -3.5, -2.5, -1.5, -0.5, -0.3,
              -0.3, -0.2, -0.2, -0.1, -0.1, 0.0, 0.0, 0.0, 0.0, 0.0,
              0.0, 0.0, 0.0, 0.0, 0.0]
E_CO_EG_UP = [0.0, 0.0, 0.0, 0.0, 0.0, 0.0, 0.0, 0.0, 0.0, 0.0,
              0.0, 0.0, 0.0, 0.05, 0.1, 0.3, 0.4, 0.4, 0.3, 0.3,
              0.8, 1.5, 2.2, 1.5, 1.0, 0.5, 0.2, 0.1, 0.05, 0.05,
              0.1, 0.05, 0.0, 0.0, 0.0]
E_B_T2G_DN = [-0.1, -0.1, -0.15, -0.3, -0.8, -1.7, -1.5, -2.8, -1.5, -1.0,
              -1.2, -0.5, -0.1, 0.0, -0.1, -0.6, -0.8, -0.4, -0.2, -1.5,
              -1.8, -1.4, -0.8, -0.3, -0.1, 0.0, 0.0, 0.0, 0.0, 0.0,
              0.0, 0.0, 0.0, 0.0, 0.0]
E_B_T2G_UP = [0.05, 0.05, 0.05, 0.05, 0.05, 0.05, 0.05, 0.05, 0.05, 0.05,
              0.05, 0.05, 0.05, 0.05, 0.1, 0.2, 0.3, 0.4, 0.2, 0.2,
              0.2, 0.2, 0.2, 0.3, 0.2, 0.2, 0.2, 0.3, 0.4, 1.5,
              8.5, 3.5, 1.0, 0.2, 0.05]
E_B_EG_DN = [0.0, 0.0, 0.0, -0.1, -0.5, -1.8, -1.0, -1.0, -0.5, -0.2,
             -0.1, 0.0, 0.0, 0.0, 0.0, -0.1, -0.1, -0.1, -0.1, -0.3,
             -0.3, -0.2, -0.1, 0.0, 0.0, 0.0, 0.0, 0.0, 0.0, 0.0,
             0.0, 0.0, 0.0, 0.0, 0.0]
E_B_EG_UP = [0.0, 0.0, 0.0, 0.0, 0.0, 0.0, 0.0, 0.0, 0.0, 0.0,
             0.0, 0.0, 0.0, 0.05, 0.1, 0.2, 0.3, 0.3, 0.4, 0.5,
             0.5, 0.4, 0.3, 0.3, 0.4, 0.6, 0.9, 1.0, 0.8, 0.6,
             0.5, 0.3, 0.2, 0.1, 0.0]

# ---------------------------------------------------------------
# layout (pixel boxes of the 1365x1378 picture)
# ---------------------------------------------------------------
W, H = 1365, 1378


def rect(l, t, r, b):
    return [l / W, 1 - b / H, (r - l) / W, (b - t) / H]


PINK = '#f7b9b9'


def frame(ax, ylim):
    ax.set_ylim(ylim)
    ax.set_yticks(E_TICKS)
    for s in ax.spines.values():
        s.set_linewidth(1.8)
    ax.tick_params(axis='y', direction='in', length=8, width=1.8,
                   left=True, right=True, labelleft=False)


def draw_bands(ax, solid, dotted, ylim, title, minority, dark_lines=False):
    for i, x in enumerate(HS_POS):
        c = 'k' if (dark_lines and i >= 2) else '0.6'
        ax.axvline(x, color=c, lw=0.8, zorder=1)
    for b in solid:
        ax.plot(K_PATH, b, color='k', lw=1.1, zorder=3)
    for b in dotted:
        ax.plot(K_PATH, b, color='k', lw=1.0, ls=(0, (1.5, 1.6)), zorder=3)
    ax.axhline(0, color='k', lw=1.8, ls=(0, (4, 2.5)), zorder=4)
    ax.set_xlim(0, 1)
    frame(ax, ylim)
    ax.set_xticks(K_TICKS)
    ax.set_xticklabels(K_LABELS, fontsize=14)
    ax.tick_params(axis='x', length=0, pad=7)
    ax.set_title(title, fontsize=13, pad=2)
    if minority:
        ax.tick_params(axis='y', labelleft=True, labelsize=18, pad=6)
        ax.set_yticklabels([str(v) for v in E_TICKS])
        ax.set_ylabel('Binding energy (eV)', fontsize=15, labelpad=3)
    else:
        ax.text(1.012, 0, 'E$_F$', transform=ax.get_yaxis_transform(),
                fontsize=15, ha='left', va='center')


def draw_dos(ax, d, ylim, xlim, xticks, texts, bottom_ticks):
    E = d['E']
    ax.fill_betweenx(E, 0, d['co_t2g_dn'], color=PINK, lw=0, zorder=1)
    ax.fill_betweenx(E, 0, d['co_t2g_up'], color=PINK, lw=0, zorder=1)
    ax.fill_betweenx(E, 0, d['co_eg_dn'], facecolor='none', edgecolor='red',
                     hatch='//////', lw=0, zorder=2)
    ax.fill_betweenx(E, 0, d['co_eg_up'], facecolor='none', edgecolor='red',
                     hatch='//////', lw=0, zorder=2)
    for key, lw in (('co_eg', 1.0), ('co_t2g', 1.6)):
        ax.plot(d[key + '_dn'], E, color='red', lw=lw, zorder=3)
        ax.plot(d[key + '_up'], E, color='red', lw=lw, zorder=3)
    ax.plot(d['b_t2g_dn'], E, color='#1010ff', lw=1.5, zorder=4)
    ax.plot(d['b_t2g_up'], E, color='#1010ff', lw=1.5, zorder=4)
    ax.plot(d['b_eg_dn'], E, color='#1010ff', lw=1.5, ls=(0, (4, 2)), zorder=4)
    ax.plot(d['b_eg_up'], E, color='#1010ff', lw=1.5, ls=(0, (4, 2)), zorder=4)
    ax.plot(d['tot_dn'], E, color='k', lw=2.0, zorder=5)
    ax.plot(d['tot_up'], E, color='k', lw=2.0, zorder=5)
    ax.axhline(0, color='k', lw=1.6, ls=(0, (3, 2.5)), zorder=6)
    ax.set_xlim(xlim)
    frame(ax, ylim)
    ax.set_xticks(xticks)
    ax.set_xticklabels([str(v) for v in xticks], fontsize=18)
    ax.tick_params(axis='x', direction='in', length=bottom_ticks, width=1.5, pad=3)
    ax.set_xlabel('DOS (states/eV)', fontsize=13.5, labelpad=-1)
    for x, y, s, fs in texts:
        ax.text(x, y, s, fontsize=fs, ha='center', va='center')


def dos_set(E, td, tu, ctd, ctu, ced, ceu, btd, btu, bed, beu):
    return dict(E=E, tot_dn=td, tot_up=tu, co_t2g_dn=ctd, co_t2g_up=ctu,
                co_eg_dn=ced, co_eg_up=ceu, b_t2g_dn=btd, b_t2g_up=btu,
                b_eg_dn=bed, b_eg_up=beu)


PANELS = [
    dict(boxes=[(59, 29, 223, 388), (232, 29, 462, 388), (469, 29, 633, 388)],
         ylim=(-4.03, 2.07), xlim=(-8.4, 11.1), xticks=[-5, 0, 5, 10], bt=0,
         bands=(A_MIN_SOLID, A_MIN_DOT, A_MAJ_SOLID, A_MAJ_DOT),
         dos=dos_set(A_E, A_TOT_DN, A_TOT_UP, A_CO_T2G_DN, A_CO_T2G_UP, A_CO_EG_DN,
                     A_CO_EG_UP, A_B_T2G_DN, A_B_T2G_UP, A_B_EG_DN, A_B_EG_UP),
         texts=[(9.0, 1.75, '(a)', 15), (5.8, 1.03, 'CoMnSb', 14),
                (-5.4, 0.33, 'down', 14), (7.1, 0.28, 'up', 14)]),
    dict(boxes=[(754, 28, 917, 394), (923, 28, 1158, 394), (1165, 28, 1326, 394)],
         ylim=(-4.07, 2.07), xlim=(-8.7, 11.9), xticks=[-5, 0, 5, 10], bt=0,
         bands=(B_MIN_SOLID, B_MIN_DOT, B_MAJ_SOLID, B_MAJ_DOT),
         dos=dos_set(B_E, B_TOT_DN, B_TOT_UP, B_CO_T2G_DN, B_CO_T2G_UP, B_CO_EG_DN,
                     B_CO_EG_UP, B_B_T2G_DN, B_B_T2G_UP, B_B_EG_DN, B_B_EG_UP),
         texts=[(9.9, 1.75, '(b)', 15), (5.6, 0.39, 'CoMnSe', 14),
                (-4.3, -0.23, 'down', 14), (5.0, -0.33, 'up', 14)]),
    dict(boxes=[(61, 493, 233, 870), (238, 493, 462, 870), (466, 493, 632, 870)],
         ylim=(-4.05, 2.08), xlim=(-9.2, 14.0), xticks=[-5, 0, 5, 10], bt=0,
         bands=(C_MIN_SOLID, C_MIN_DOT, C_MAJ_SOLID, C_MAJ_DOT),
         dos=dos_set(C_E, C_TOT_DN, C_TOT_UP, C_CO_T2G_DN, C_CO_T2G_UP, C_CO_EG_DN,
                     C_CO_EG_UP, C_B_T2G_DN, C_B_T2G_UP, C_B_EG_DN, C_B_EG_UP),
         texts=[(11.7, 1.71, '(c)', 15), (5.6, 0.37, 'CoMnTe', 14),
                (-4.4, -0.21, 'down', 14), (5.3, -0.21, 'up', 14)]),
    dict(boxes=[(752, 498, 917, 860), (922, 498, 1150, 860), (1157, 498, 1325, 860)],
         ylim=(-4.03, 2.03), xlim=(-10.9, 14.4), xticks=[-10, -5, 0, 5, 10], bt=4,
         bands=(D_MIN_SOLID, D_MIN_DOT, D_MAJ_SOLID, D_MAJ_DOT),
         dos=dos_set(D_E, D_TOT_DN, D_TOT_UP, D_CO_T2G_DN, D_CO_T2G_UP, D_CO_EG_DN,
                     D_CO_EG_UP, D_B_T2G_DN, D_B_T2G_UP, D_B_EG_DN, D_B_EG_UP),
         texts=[(12.6, 1.7, '(d)', 15), (5.6, 0.36, 'CoFeSb', 14),
                (-5.6, -0.28, 'down', 14), (5.1, -0.24, 'up', 14)]),
    dict(boxes=[(422, 965, 590, 1331), (597, 965, 836, 1331), (843, 965, 1013, 1331)],
         ylim=(-4.03, 2.08), xlim=(-12.1, 14.4), xticks=[-10, -5, 0, 5, 10], bt=4,
         bands=(E_MIN_SOLID, E_MIN_DOT, E_MAJ_SOLID, E_MAJ_DOT),
         dos=dos_set(E_E, E_TOT_DN, E_TOT_UP, E_CO_T2G_DN, E_CO_T2G_UP, E_CO_EG_DN,
                     E_CO_EG_UP, E_B_T2G_DN, E_B_T2G_UP, E_B_EG_DN, E_B_EG_UP),
         texts=[(12.1, 1.75, '(e)', 15), (6.0, 0.37, 'CoFeTe', 14),
                (-5.8, -0.33, 'down', 14), (3.6, -0.33, 'up', 14)]),
]


def main():
    fig = plt.figure(figsize=(W / 100, H / 100), dpi=100)
    for n, p in enumerate(PANELS):
        min_solid, min_dot, maj_solid, maj_dot = p['bands']
        ax_min = fig.add_axes(rect(*p['boxes'][0]))
        ax_dos = fig.add_axes(rect(*p['boxes'][1]))
        ax_maj = fig.add_axes(rect(*p['boxes'][2]))
        draw_bands(ax_min, min_solid, min_dot, p['ylim'], 'Minority Spin', True)
        draw_bands(ax_maj, maj_solid, maj_dot, p['ylim'], 'Majority Spin', False,
                   dark_lines=(n == 4))
        draw_dos(ax_dos, p['dos'], p['ylim'], p['xlim'], p['xticks'], p['texts'], p['bt'])

        if n == 1:
            handles = [
                Line2D([], [], color='k', lw=2.0),
                Patch(facecolor=PINK, edgecolor='red', lw=1.5),
                Patch(facecolor='none', edgecolor='red', hatch='//////', lw=1.5),
                Line2D([], [], color='#1010ff', lw=1.5),
                Line2D([], [], color='#1010ff', lw=1.5, ls=(0, (4, 2))),
            ]
            labels = ['Total', 'Co 3d$_{t2g}$', 'Co 3d$_{eg}$',
                      'B 3d$_{t2g}$', 'B 3d$_{eg}$']
            ax_dos.legend(handles, labels, loc='upper left', bbox_to_anchor=(0.56, 0.565),
                          frameon=False, fontsize=12, labelspacing=0.15,
                          handlelength=2.0, handleheight=0.8, handletextpad=0.4,
                          borderaxespad=0, borderpad=0.1)

    fig.savefig('out.png', dpi=100)


if __name__ == '__main__':
    main()
